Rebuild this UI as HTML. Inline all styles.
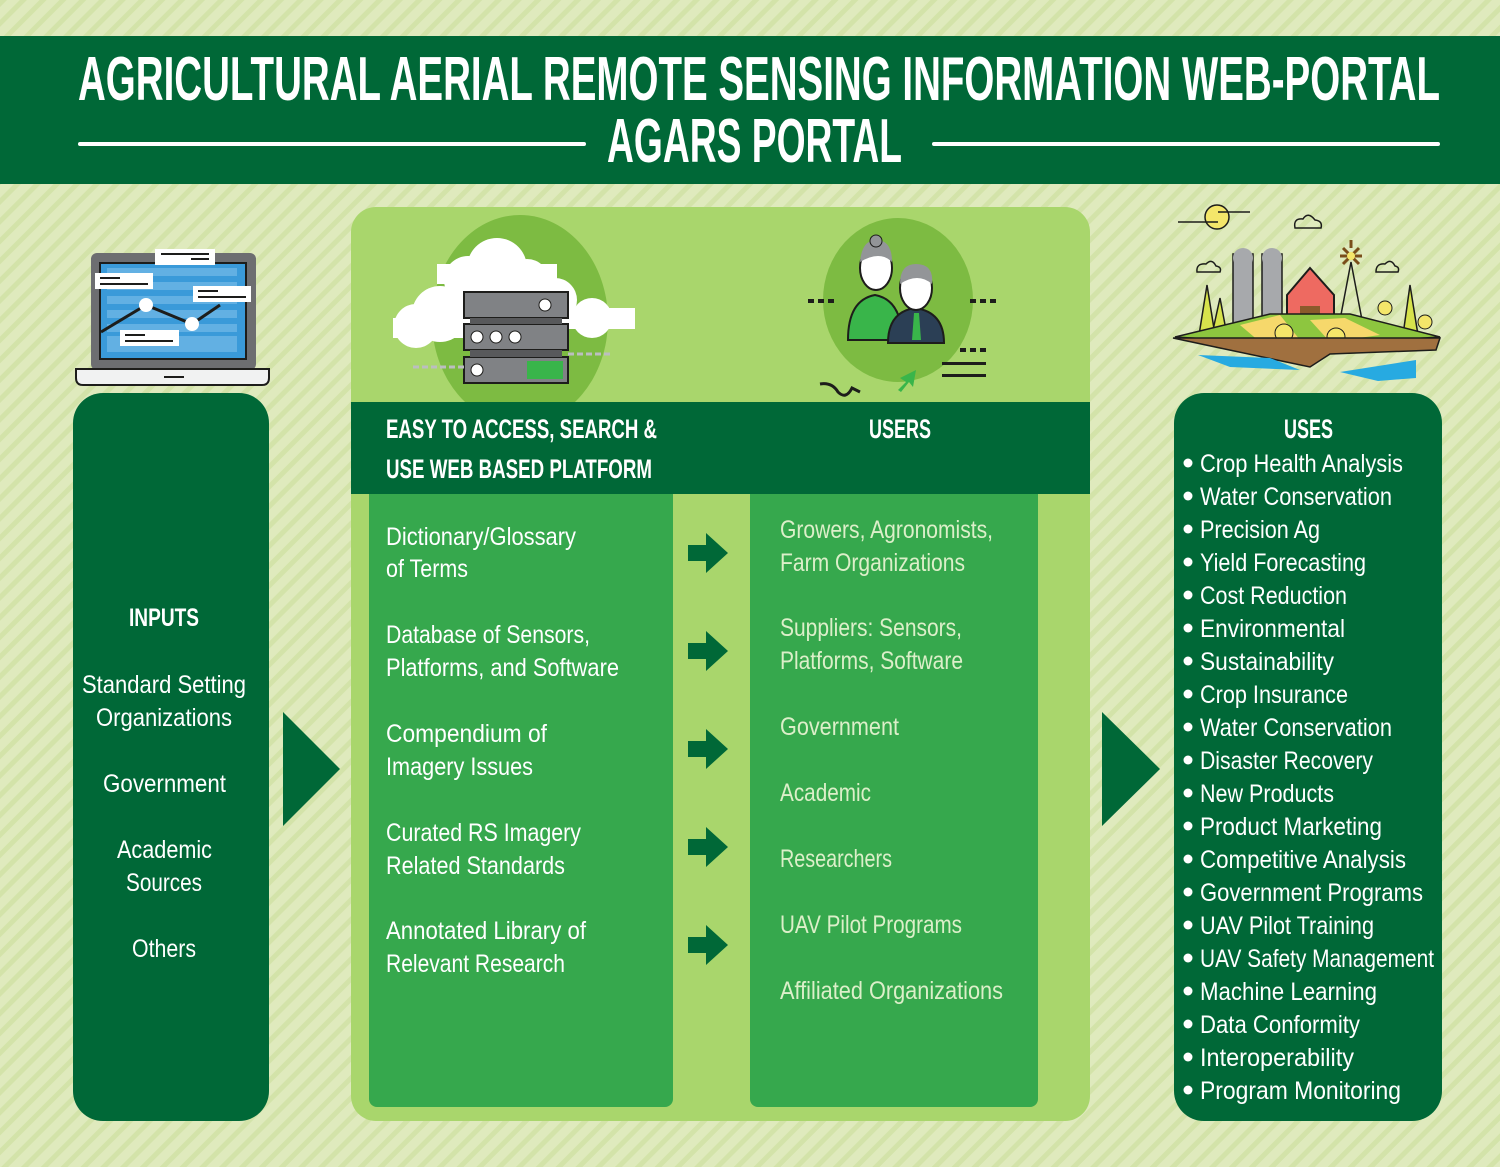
<!DOCTYPE html>
<html><head><meta charset="utf-8"><style>html,body{margin:0;padding:0;background:#dde9bd}svg{display:block}</style></head>
<body>
<svg width="1500" height="1167" viewBox="0 0 1500 1167" xmlns="http://www.w3.org/2000/svg" font-family="Liberation Sans, sans-serif">
<defs>
<pattern id="st" width="14" height="14" patternUnits="userSpaceOnUse" patternTransform="rotate(-45)">
<rect width="14" height="14" fill="#dfeabd"/><rect width="14" height="5" fill="#d3e3a9"/>
</pattern>
</defs>
<rect width="1500" height="1167" fill="url(#st)"/>
<!-- header -->
<rect x="0" y="36" width="1500" height="148" fill="#006837"/>
<g fill="#fff" font-weight="bold">
<text x="78" y="100" font-size="62" textLength="1362" lengthAdjust="spacingAndGlyphs">AGRICULTURAL AERIAL REMOTE SENSING INFORMATION WEB-PORTAL</text>
<text x="607" y="162" font-size="62" textLength="295" lengthAdjust="spacingAndGlyphs">AGARS PORTAL</text>
</g>
<rect x="78" y="142" width="508" height="4" rx="2" fill="#fff"/>
<rect x="932" y="142" width="508" height="4" rx="2" fill="#fff"/>

<!-- laptop -->
<rect x="91" y="253" width="165" height="117" rx="6" fill="#6d6e71"/>
<rect x="99" y="262" width="148" height="98" fill="#1d1d1b"/>
<rect x="101" y="264" width="144" height="94" fill="#3a9ad9"/>
<g fill="#62b0e3"><rect x="107" y="268" width="130" height="8"/><rect x="107" y="282" width="130" height="8"/><rect x="107" y="296" width="130" height="8"/><rect x="107" y="310" width="130" height="8"/><rect x="107" y="324" width="130" height="8"/><rect x="107" y="336" width="130" height="16"/></g>
<polyline points="101,332 146,305 192,324 220,305" fill="none" stroke="#1d1d1b" stroke-width="3"/>
<circle cx="146" cy="305" r="7" fill="#fff"/><circle cx="192" cy="324" r="7" fill="#fff"/>
<g fill="#fff"><rect x="155" y="249" width="60" height="16"/><rect x="95" y="273" width="58" height="16"/><rect x="193" y="286" width="58" height="16"/><rect x="120" y="330" width="59" height="16"/></g>
<g fill="#1d1d1b"><rect x="161" y="253" width="48" height="2"/><rect x="191" y="258" width="18" height="2"/><rect x="100" y="277" width="20" height="2"/><rect x="100" y="283" width="48" height="2"/><rect x="198" y="290" width="20" height="2"/><rect x="198" y="296" width="48" height="2"/><rect x="125" y="334" width="20" height="2"/><rect x="125" y="340" width="48" height="2"/></g>
<path d="M76 369 H269 V378 Q269 385 262 385 H83 Q76 385 76 378 Z" fill="#f1f2f2" stroke="#1d1d1b" stroke-width="2"/>
<rect x="164" y="376" width="20" height="2" fill="#1d1d1b"/>

<!-- left box -->
<rect x="73" y="393" width="196" height="728" rx="30" fill="#006837"/>
<g fill="#fff" font-size="25">
<text x="129" y="626" font-weight="bold" textLength="70" lengthAdjust="spacingAndGlyphs">INPUTS</text>
<text x="82" y="693" textLength="164" lengthAdjust="spacingAndGlyphs">Standard Setting</text>
<text x="96" y="726" textLength="136" lengthAdjust="spacingAndGlyphs">Organizations</text>
<text x="103" y="792" textLength="123" lengthAdjust="spacingAndGlyphs">Government</text>
<text x="117" y="858" textLength="95" lengthAdjust="spacingAndGlyphs">Academic</text>
<text x="126" y="891" textLength="76" lengthAdjust="spacingAndGlyphs">Sources</text>
<text x="132" y="957" textLength="64" lengthAdjust="spacingAndGlyphs">Others</text>
</g>
<polygon points="283,712 340,769 283,826" fill="#006837"/>

<!-- middle panel -->
<rect x="351" y="207" width="739" height="914" rx="25" fill="#a9d66c"/>
<!-- server icon -->
<ellipse cx="520" cy="320" rx="88" ry="105" fill="#7dbb42"/>
<g fill="#fff">
<circle cx="497" cy="268" r="30"/><circle cx="468" cy="280" r="24"/><circle cx="527" cy="281" r="22"/><rect x="437" y="264" width="120" height="20"/>
<circle cx="440" cy="314" r="28"/><circle cx="416" cy="326" r="22"/><rect x="393" y="318" width="80" height="20"/>
<circle cx="555" cy="300" r="22"/><circle cx="592" cy="318" r="20"/><rect x="535" y="308" width="100" height="21"/>
</g>
<rect x="464" y="292" width="104" height="26" fill="#808285" stroke="#1d1d1b" stroke-width="2"/>
<rect x="464" y="324" width="104" height="26" fill="#808285" stroke="#1d1d1b" stroke-width="2"/>
<rect x="464" y="357" width="104" height="26" fill="#808285" stroke="#1d1d1b" stroke-width="2"/>
<rect x="470" y="318" width="92" height="6" fill="#58595b"/><rect x="470" y="350" width="92" height="7" fill="#58595b"/>
<g fill="#fff" stroke="#1d1d1b"><circle cx="477" cy="337" r="6"/><circle cx="496" cy="337" r="6"/><circle cx="515" cy="337" r="6"/><circle cx="477" cy="370" r="6"/><circle cx="545" cy="305" r="6"/></g>
<rect x="527" y="361" width="36" height="18" fill="#39b54a"/>
<line x1="413" y1="367" x2="464" y2="367" stroke="#bcbec0" stroke-width="3" stroke-dasharray="6 3"/>
<line x1="568" y1="354" x2="610" y2="354" stroke="#bcbec0" stroke-width="3" stroke-dasharray="6 3"/>
<!-- users icon -->
<ellipse cx="898" cy="300" rx="75" ry="82" fill="#7dbb42"/>
<path d="M848 340 Q848 300 875 295 Q902 300 902 340 Z" fill="#39b54a" stroke="#1d1d1b" stroke-width="2"/>
<ellipse cx="876" cy="268" rx="16" ry="22" fill="#fff" stroke="#1d1d1b" stroke-width="2"/>
<path d="M860 262 Q862 240 876 240 Q892 240 892 262 Q880 250 860 262Z" fill="#939598"/>
<circle cx="876" cy="241" r="6" fill="#939598" stroke="#1d1d1b"/>
<path d="M888 343 Q888 312 915 308 Q944 312 944 343 Z" fill="#2b3f55" stroke="#1d1d1b" stroke-width="2"/>
<ellipse cx="916" cy="288" rx="16" ry="22" fill="#fff" stroke="#1d1d1b" stroke-width="2"/>
<path d="M900 284 Q900 264 916 264 Q934 264 932 284 Q918 272 900 284Z" fill="#939598"/>
<polygon points="914,313 919,313 921,340 912,340" fill="#39b54a"/>
<g fill="#1d1d1b"><rect x="808" y="299" width="6" height="4"/><rect x="818" y="299" width="6" height="4"/><rect x="828" y="299" width="6" height="4"/><rect x="970" y="299" width="6" height="4"/><rect x="980" y="299" width="6" height="4"/><rect x="990" y="299" width="6" height="4"/><rect x="942" y="362" width="44" height="3"/><rect x="942" y="374" width="44" height="3"/><rect x="960" y="348" width="6" height="4"/><rect x="970" y="348" width="6" height="4"/><rect x="980" y="348" width="6" height="4"/></g>
<path d="M820 384 Q832 382 838 392 Q846 400 852 388 L860 392" fill="none" stroke="#1d1d1b" stroke-width="3"/>
<polygon points="898,390 906,382 900,378 916,370 913,387 909,382 901,392" fill="#39b54a"/>

<rect x="351" y="402" width="739" height="92" fill="#006837"/>
<g fill="#fff" font-weight="bold" font-size="27">
<text x="386" y="438" textLength="271" lengthAdjust="spacingAndGlyphs">EASY TO ACCESS, SEARCH &amp;</text>
<text x="386" y="478" textLength="266" lengthAdjust="spacingAndGlyphs">USE WEB BASED PLATFORM</text>
<text x="869" y="438" textLength="62" lengthAdjust="spacingAndGlyphs">USERS</text>
</g>
<rect x="369" y="494" width="304" height="613" rx="8" fill="#36a84d"/>
<rect x="369" y="494" width="304" height="20" fill="#36a84d"/>
<rect x="750" y="494" width="288" height="613" rx="8" fill="#36a84d"/>
<rect x="750" y="494" width="288" height="20" fill="#36a84d"/>
<g fill="#006837">
<polygon points="688,545 706,545 706,533 728,553 706,573 706,561 688,561"/>
<polygon points="688,643 706,643 706,631 728,651 706,671 706,659 688,659"/>
<polygon points="688,741 706,741 706,729 728,749 706,769 706,757 688,757"/>
<polygon points="688,839 706,839 706,827 728,847 706,867 706,855 688,855"/>
<polygon points="688,937 706,937 706,925 728,945 706,965 706,953 688,953"/>
</g>
<g fill="#fff" font-size="25">
<text x="386" y="545" textLength="190" lengthAdjust="spacingAndGlyphs">Dictionary/Glossary</text>
<text x="386" y="577" textLength="82" lengthAdjust="spacingAndGlyphs">of Terms</text>
<text x="386" y="643" textLength="204" lengthAdjust="spacingAndGlyphs">Database of Sensors,</text>
<text x="386" y="676" textLength="233" lengthAdjust="spacingAndGlyphs">Platforms, and Software</text>
<text x="386" y="742" textLength="161" lengthAdjust="spacingAndGlyphs">Compendium of</text>
<text x="386" y="775" textLength="147" lengthAdjust="spacingAndGlyphs">Imagery Issues</text>
<text x="386" y="841" textLength="195" lengthAdjust="spacingAndGlyphs">Curated RS Imagery</text>
<text x="386" y="874" textLength="179" lengthAdjust="spacingAndGlyphs">Related Standards</text>
<text x="386" y="939" textLength="200" lengthAdjust="spacingAndGlyphs">Annotated Library of</text>
<text x="386" y="972" textLength="179" lengthAdjust="spacingAndGlyphs">Relevant Research</text>
</g>
<g fill="#dcefc9" font-size="25">
<text x="780" y="538" textLength="213" lengthAdjust="spacingAndGlyphs">Growers, Agronomists,</text>
<text x="780" y="571" textLength="185" lengthAdjust="spacingAndGlyphs">Farm Organizations</text>
<text x="780" y="636" textLength="182" lengthAdjust="spacingAndGlyphs">Suppliers: Sensors,</text>
<text x="780" y="669" textLength="183" lengthAdjust="spacingAndGlyphs">Platforms, Software</text>
<text x="780" y="735" textLength="119" lengthAdjust="spacingAndGlyphs">Government</text>
<text x="780" y="801" textLength="91" lengthAdjust="spacingAndGlyphs">Academic</text>
<text x="780" y="867" textLength="112" lengthAdjust="spacingAndGlyphs">Researchers</text>
<text x="780" y="933" textLength="182" lengthAdjust="spacingAndGlyphs">UAV Pilot Programs</text>
<text x="780" y="999" textLength="223" lengthAdjust="spacingAndGlyphs">Affiliated Organizations</text>
</g>
<polygon points="1102,712 1160,769 1102,826" fill="#006837"/>

<!-- farm icon -->
<circle cx="1217" cy="217" r="12" fill="#f4e66a" stroke="#1d1d1b" stroke-width="1.5"/>
<line x1="1178" y1="222" x2="1218" y2="222" stroke="#1d1d1b" stroke-width="1.5"/><line x1="1218" y1="212" x2="1250" y2="212" stroke="#1d1d1b" stroke-width="1.5"/>
<g fill="none" stroke="#1d1d1b" stroke-width="1.5"><path d="M1295 228 Q1293 218 1303 219 Q1308 211 1315 220 Q1323 221 1321 228 Z"/><path d="M1197 272 Q1196 263 1206 264 Q1212 258 1216 266 Q1222 267 1220 272 Z"/><path d="M1376 272 Q1376 263 1385 264 Q1391 258 1395 266 Q1400 267 1398 272 Z"/></g>
<rect x="1233" y="254" width="20" height="72" fill="#a7a9ac" stroke="#1d1d1b" stroke-width="1.5"/><rect x="1262" y="254" width="20" height="72" fill="#a7a9ac" stroke="#1d1d1b" stroke-width="1.5"/>
<circle cx="1243" cy="258" r="10" fill="#a7a9ac"/><circle cx="1272" cy="258" r="10" fill="#a7a9ac"/>
<polygon points="1287,295 1310,268 1334,295 1334,322 1287,322" fill="#ee6a61" stroke="#1d1d1b" stroke-width="2"/>
<rect x="1300" y="306" width="20" height="16" fill="#8b5a2b"/>
<g stroke="#7a4e1a" stroke-width="3"><line x1="1351" y1="248" x2="1351" y2="240"/><line x1="1340" y1="256" x2="1362" y2="256"/><line x1="1343" y1="248" x2="1359" y2="264"/><line x1="1359" y1="248" x2="1343" y2="264"/></g>
<circle cx="1351" cy="256" r="4" fill="#f4e66a"/>
<path d="M1340 320 L1351 262 L1362 320" fill="none" stroke="#1d1d1b" stroke-width="1.5"/>
<polygon points="1199,335 1207,285 1215,335" fill="#d7e34c" stroke="#1d1d1b" stroke-width="1.5"/><polygon points="1213,330 1220,298 1226,330" fill="#d7e34c" stroke="#1d1d1b" stroke-width="1.5"/>
<polygon points="1403,335 1410,285 1418,335" fill="#d7e34c" stroke="#1d1d1b" stroke-width="1.5"/>
<circle cx="1385" cy="308" r="7" fill="#f4e66a" stroke="#1d1d1b"/><circle cx="1425" cy="322" r="7" fill="#f4e66a" stroke="#1d1d1b"/>
<polygon points="1175,337 1270,314 1350,314 1440,337 1310,345" fill="#8dc63f" stroke="#1d1d1b" stroke-width="1.5"/>
<polygon points="1240,325 1280,315 1300,340 1260,342" fill="#f6d86b"/><polygon points="1310,320 1345,318 1380,335 1330,342" fill="#f6d86b"/>
<circle cx="1284" cy="333" r="9" fill="#f4e66a" stroke="#1d1d1b"/><circle cx="1336" cy="337" r="9" fill="#f4e66a" stroke="#1d1d1b"/>
<polygon points="1173,338 1440,338 1436,350 1330,354 1310,367 1220,348" fill="#a0703f" stroke="#1d1d1b" stroke-width="1.5"/>
<polygon points="1198,355 1270,358 1300,370 1230,367" fill="#27aae1"/>
<polygon points="1340,372 1416,360 1416,378 1378,381" fill="#27aae1"/>

<!-- right box -->
<rect x="1174" y="393" width="268" height="728" rx="30" fill="#006837"/>
<text x="1284" y="438" fill="#fff" font-weight="bold" font-size="27" textLength="49" lengthAdjust="spacingAndGlyphs">USES</text>
<g fill="#fff" font-size="25">
<text x="1200" y="472" textLength="203" lengthAdjust="spacingAndGlyphs">Crop Health Analysis</text>
<text x="1200" y="505" textLength="192" lengthAdjust="spacingAndGlyphs">Water Conservation</text>
<text x="1200" y="538" textLength="120" lengthAdjust="spacingAndGlyphs">Precision Ag</text>
<text x="1200" y="571" textLength="166" lengthAdjust="spacingAndGlyphs">Yield Forecasting</text>
<text x="1200" y="604" textLength="147" lengthAdjust="spacingAndGlyphs">Cost Reduction</text>
<text x="1200" y="637" textLength="145" lengthAdjust="spacingAndGlyphs">Environmental</text>
<text x="1200" y="670" textLength="134" lengthAdjust="spacingAndGlyphs">Sustainability</text>
<text x="1200" y="703" textLength="148" lengthAdjust="spacingAndGlyphs">Crop Insurance</text>
<text x="1200" y="736" textLength="192" lengthAdjust="spacingAndGlyphs">Water Conservation</text>
<text x="1200" y="769" textLength="173" lengthAdjust="spacingAndGlyphs">Disaster Recovery</text>
<text x="1200" y="802" textLength="134" lengthAdjust="spacingAndGlyphs">New Products</text>
<text x="1200" y="835" textLength="182" lengthAdjust="spacingAndGlyphs">Product Marketing</text>
<text x="1200" y="868" textLength="206" lengthAdjust="spacingAndGlyphs">Competitive Analysis</text>
<text x="1200" y="901" textLength="223" lengthAdjust="spacingAndGlyphs">Government Programs</text>
<text x="1200" y="934" textLength="174" lengthAdjust="spacingAndGlyphs">UAV Pilot Training</text>
<text x="1200" y="967" textLength="234" lengthAdjust="spacingAndGlyphs">UAV Safety Management</text>
<text x="1200" y="1000" textLength="177" lengthAdjust="spacingAndGlyphs">Machine Learning</text>
<text x="1200" y="1033" textLength="160" lengthAdjust="spacingAndGlyphs">Data Conformity</text>
<text x="1200" y="1066" textLength="154" lengthAdjust="spacingAndGlyphs">Interoperability</text>
<text x="1200" y="1099" textLength="201" lengthAdjust="spacingAndGlyphs">Program Monitoring</text>
</g>
<g fill="#fff">
<circle cx="1188" cy="463" r="4.5"/><circle cx="1188" cy="496" r="4.5"/><circle cx="1188" cy="529" r="4.5"/><circle cx="1188" cy="562" r="4.5"/><circle cx="1188" cy="595" r="4.5"/><circle cx="1188" cy="628" r="4.5"/><circle cx="1188" cy="661" r="4.5"/><circle cx="1188" cy="694" r="4.5"/><circle cx="1188" cy="727" r="4.5"/><circle cx="1188" cy="760" r="4.5"/><circle cx="1188" cy="793" r="4.5"/><circle cx="1188" cy="826" r="4.5"/><circle cx="1188" cy="859" r="4.5"/><circle cx="1188" cy="892" r="4.5"/><circle cx="1188" cy="925" r="4.5"/><circle cx="1188" cy="958" r="4.5"/><circle cx="1188" cy="991" r="4.5"/><circle cx="1188" cy="1024" r="4.5"/><circle cx="1188" cy="1057" r="4.5"/><circle cx="1188" cy="1090" r="4.5"/>
</g>
</svg>
</body></html>
